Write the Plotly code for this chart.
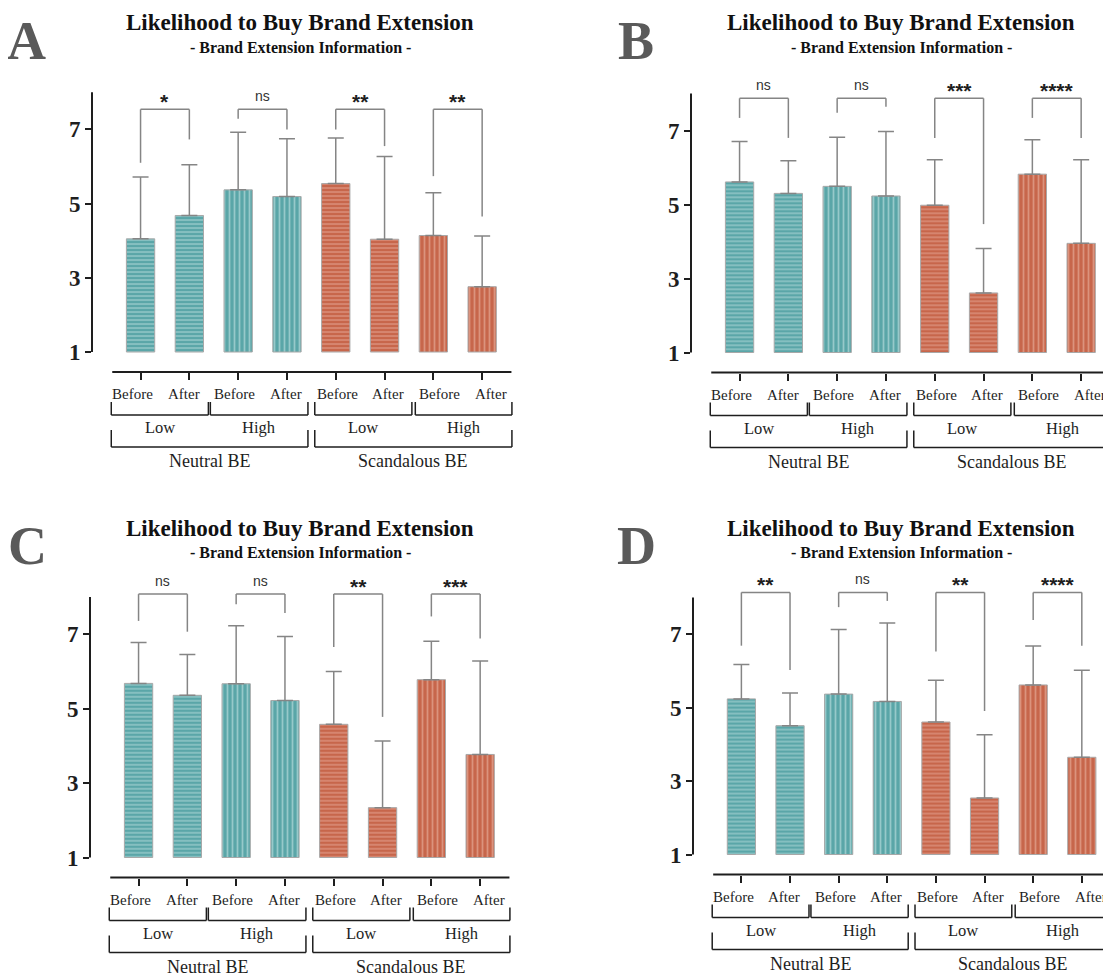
import plotly.graph_objects as go

# page is 1111x976; the browser adds an 8px body margin, so the figure is inset
PAGE_W, PAGE_H = 1111, 976
OFF = 8
W, H = PAGE_W - OFF, PAGE_H - OFF

# ---------------- data ----------------
conditions = ["Before", "After", "Before", "After", "Before", "After", "Before", "After"]
involvement = ["Low", "High", "Low", "High"]
be_type = ["Neutral BE", "Scandalous BE"]
panel_letters = ["A", "B", "C", "D"]
title_text = "Likelihood to Buy Brand Extension"
subtitle_text = "- Brand Extension Information -"
y_ticks = [1, 3, 5, 7]

mean_A = [4.05, 4.68, 5.37, 5.19, 5.54, 4.04, 4.14, 2.76]
sd_A = [1.67, 1.37, 1.55, 1.56, 1.23, 2.23, 1.15, 1.37]
mean_B = [5.61, 5.30, 5.49, 5.23, 4.98, 2.61, 5.82, 3.95]
sd_B = [1.09, 0.88, 1.33, 1.74, 1.23, 1.20, 0.93, 2.26]
mean_C = [5.68, 5.36, 5.67, 5.22, 4.58, 2.34, 5.78, 3.77]
sd_C = [1.10, 1.10, 1.56, 1.72, 1.42, 1.79, 1.03, 2.51]
mean_D = [5.24, 4.51, 5.37, 5.17, 4.61, 2.54, 5.62, 3.65]
sd_D = [0.94, 0.89, 1.76, 2.14, 1.14, 1.72, 1.06, 2.37]

sig_A = ["*", "ns", "**", "**"]
sig_B = ["ns", "ns", "***", "****"]
sig_C = ["ns", "ns", "**", "***"]
sig_D = ["**", "ns", "**", "****"]

# significance bracket heights (y values)
brk_top = [7.54, 7.87, 8.08, 8.14]
brk_left_A = [6.10, 7.29, 7.00, 5.74]
brk_right_A = [6.73, 7.00, 6.55, 4.65]
brk_left_B = [7.34, 7.48, 6.80, 7.34]
brk_right_B = [6.80, 7.64, 4.47, 6.80]
brk_left_C = [7.36, 7.81, 6.66, 7.48]
brk_right_C = [7.07, 7.57, 4.78, 6.89]
brk_left_D = [6.69, 7.74, 6.53, 7.39]
brk_right_D = [6.03, 7.91, 4.91, 6.69]

means = [mean_A, mean_B, mean_C, mean_D]
sds = [sd_A, sd_B, sd_C, sd_D]
sigs = [sig_A, sig_B, sig_C, sig_D]
brk_left = [brk_left_A, brk_left_B, brk_left_C, brk_left_D]
brk_right = [brk_right_A, brk_right_B, brk_right_C, brk_right_D]

# ---------------- styling / geometry ----------------
TEAL, TEAL_L = "#5aa6a8", "#d4ecec"
ORNG, ORNG_L = "#c7664b", "#f0bfb0"
bar_colors = [TEAL] * 4 + [ORNG] * 4
stripe_colors = [TEAL_L] * 4 + [ORNG_L] * 4
stripe_shapes = ["-", "-", "|", "|", "-", "-", "|", "|"]
stripe_sizes = [4, 4, 5, 5, 4, 4, 5, 5]

SERIF = "Liberation Serif"
SANS = "Liberation Sans"
INK = "#1e1e1e"
GREY = "#858585"

# per panel (page pixels): x of y-axis, y of value 1, px per y unit
PANELS = [(92, 352.0, 37.1), (691, 352.5, 37.0), (90, 857.5, 37.2), (693, 854.5, 36.7)]
# title x, title y, subtitle y, letter x, letter y (page pixels)
TITLES = [(300, 23, 48, 26, 41), (901, 23, 48, 636, 41),
          (300, 528, 552, 27, 546), (901, 528, 552, 636, 546)]
UX = 48.8
XMIN, XMAX = -0.995, 7.6
YMAX = 8.6
BAR_W = 0.58

# bottom hierarchy positions (category units)
label_pos = [i * 1.05 - 0.17 for i in range(8)]
l1_start = [-0.60, 1.43, 3.57, 5.63]
l1_end = [1.39, 3.43, 5.56, 7.61]
l2_start = [-0.60, 3.57]
l2_end = [3.43, 7.61]


def pxw(px):
    return (px - OFF) / W


def pyh(py):
    return 1 - (py - OFF) / H


fig = go.Figure()
shapes = []
annotations = []

for p in range(4):
    n = p + 1
    sfx = "" if n == 1 else str(n)
    axpx, y1px, uy = PANELS[p]
    ymin = 1 - 20.0 / uy
    x_dom = [pxw(axpx), min(1.0, pxw(axpx + (XMAX - XMIN) * UX))]
    top_px = y1px - (YMAX - 1) * uy
    bot_px = y1px + 20
    y_dom = [pyh(bot_px), pyh(top_px)]

    def fx(x):
        return (x - XMIN) / (XMAX - XMIN)

    def fy(y, ymin=ymin):
        return (y - ymin) / (YMAX - ymin)

    def off(px, uy=uy):  # pixel offset below value 1 -> y value
        return 1 - px / uy

    xr, yr = f"x{sfx} domain", f"y{sfx} domain"

    def seg(x0, y0, x1, y1, color, width, xr=xr, yr=yr, fy=fy):
        shapes.append(dict(type="line", xref=xr, yref=yr, x0=fx(x0), y0=fy(y0),
                           x1=fx(x1), y1=fy(y1), line=dict(color=color, width=width)))

    def label(x, y, text, size, family=SERIF, weight="normal", color=INK, yshift=0,
              xr=xr, yr=yr, fy=fy):
        annotations.append(dict(xref=xr, yref=yr, x=fx(x), y=fy(y), text=text, showarrow=False,
                                xanchor="center", yanchor="middle", yshift=yshift,
                                font=dict(family=family, size=size, color=color, weight=weight)))

    m = means[p]
    for i in range(8):
        fig.add_trace(go.Bar(
            x=[i], y=[m[i] - 1], base=1, width=BAR_W,
            name=conditions[i],
            marker=dict(color=bar_colors[i], line=dict(color="#a8a8a8", width=1),
                        pattern=dict(shape=stripe_shapes[i], fgcolor=stripe_colors[i],
                                     bgcolor=bar_colors[i], size=stripe_sizes[i],
                                     solidity=0.35, fillmode="overlay")),
            error_y=dict(type="data", array=[sds[p][i]], arrayminus=[0], symmetric=False,
                         color=GREY, thickness=1.5, width=8),
            xaxis=f"x{sfx}", yaxis=f"y{sfx}", showlegend=False,
        ))

    fig.update_layout(**{
        f"xaxis{sfx}": dict(domain=x_dom, range=[XMIN, XMAX], anchor=f"y{sfx}",
                            tickvals=list(range(8)), ticks="outside", ticklen=7, tickwidth=2,
                            tickcolor=INK, showticklabels=False, showline=False,
                            showgrid=False, zeroline=False, fixedrange=True),
        f"yaxis{sfx}": dict(domain=y_dom, range=[ymin, YMAX], anchor=f"x{sfx}",
                            tickvals=y_ticks, ticks="outside", ticklen=6, tickwidth=2,
                            tickcolor=INK, showline=False, showgrid=False, zeroline=False,
                            tickfont=dict(family=SERIF, size=23, color=INK, weight="bold"),
                            fixedrange=True),
    })

    # axis lines
    seg(XMIN, 1, XMIN, 8, INK, 2)
    seg(-0.58, ymin, XMAX, ymin, INK, 2)

    # significance brackets
    for k in range(4):
        xa, xb = 2 * k, 2 * k + 1
        t = brk_top[p]
        seg(xa, brk_left[p][k], xa, t, GREY, 1.5)
        seg(xa, t, xb, t, GREY, 1.5)
        seg(xb, t, xb, brk_right[p][k], GREY, 1.5)
        s = sigs[p][k]
        if s == "ns":
            label((xa + xb) / 2, t, s, 14, family=SANS, color="#333", yshift=13)
        else:
            label((xa + xb) / 2, t, s, 21, family=SANS, weight="bold", color=INK, yshift=8)

    # bottom category labels
    for i in range(8):
        label(label_pos[i], off(42), conditions[i], 15)
    for k in range(4):
        a, b = l1_start[k], l1_end[k]
        seg(a, off(50), a, off(63), INK, 1.5)
        seg(a, off(63), b, off(63), INK, 1.5)
        seg(b, off(63), b, off(50), INK, 1.5)
        label((a + b) / 2, off(76), involvement[k], 16.5)
    for k in range(2):
        a, b = l2_start[k], l2_end[k]
        seg(a, off(78), a, off(95), INK, 1.5)
        seg(a, off(95), b, off(95), INK, 1.5)
        seg(b, off(95), b, off(78), INK, 1.5)
        label((a + b) / 2, off(109.5), be_type[k], 18)

    # titles and panel letter
    tx, ty, sy, lx, ly = TITLES[p]
    annotations.append(dict(xref="paper", yref="paper", x=pxw(tx), y=pyh(ty), text=title_text,
                            showarrow=False, xanchor="center", yanchor="middle",
                            font=dict(family=SERIF, size=23, color="#111", weight="bold")))
    annotations.append(dict(xref="paper", yref="paper", x=pxw(tx), y=pyh(sy), text=subtitle_text,
                            showarrow=False, xanchor="center", yanchor="middle",
                            font=dict(family=SERIF, size=16, color="#111", weight="bold")))
    annotations.append(dict(xref="paper", yref="paper", x=pxw(lx), y=pyh(ly), text=panel_letters[p],
                            showarrow=False, xanchor="center", yanchor="middle",
                            font=dict(family=SERIF, size=54, color="#5a5a5a", weight="bold")))

fig.update_layout(
    width=W, height=H, autosize=False,
    margin=dict(l=0, r=0, t=0, b=0),
    paper_bgcolor="white", plot_bgcolor="rgba(0,0,0,0)",
    barmode="overlay", showlegend=False,
    shapes=shapes, annotations=annotations,
)

fig.write_html("out.html")
